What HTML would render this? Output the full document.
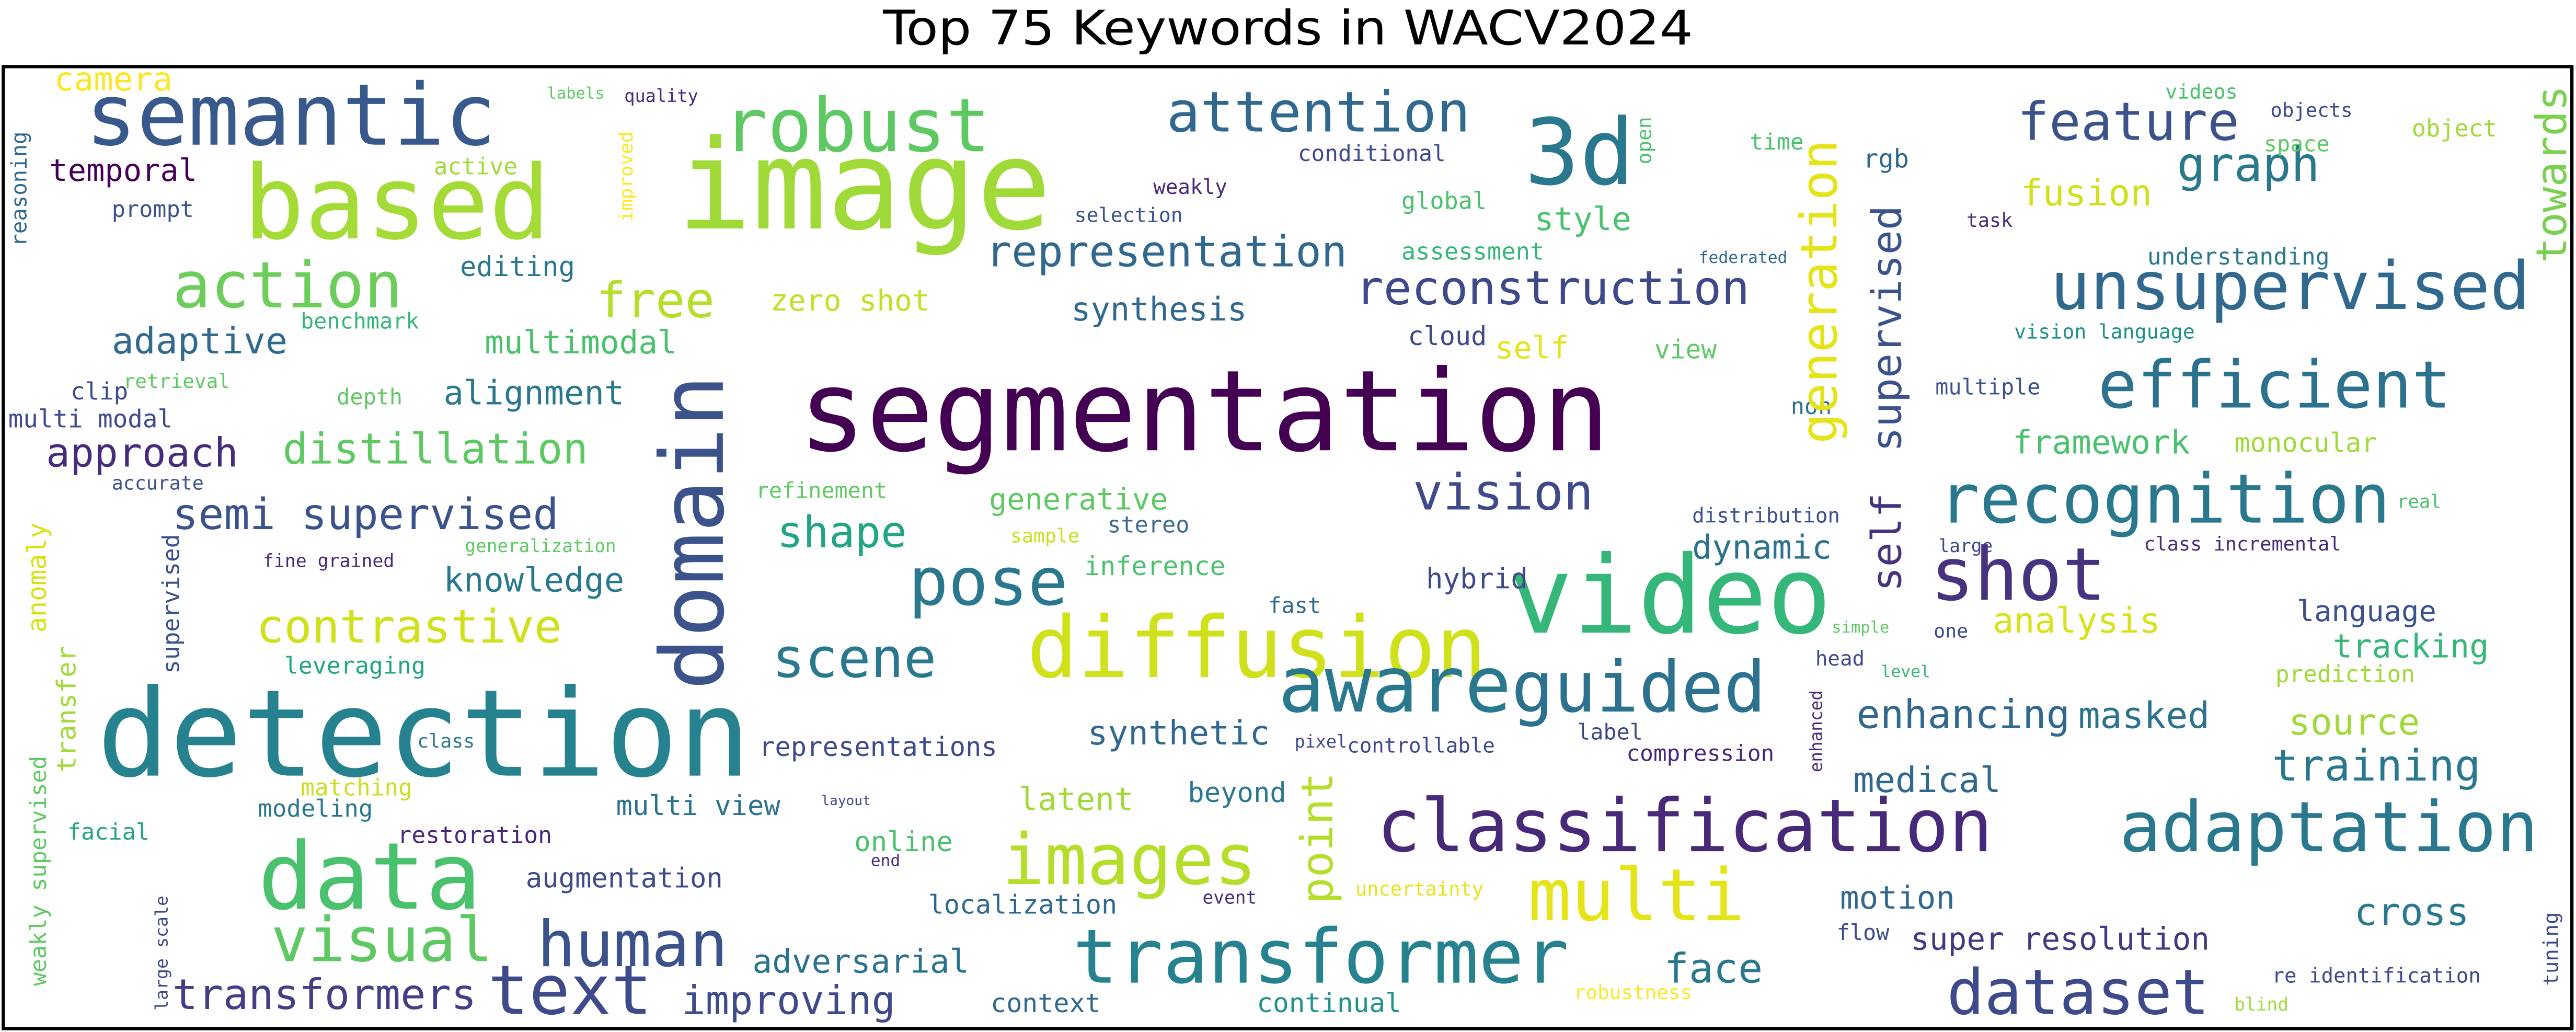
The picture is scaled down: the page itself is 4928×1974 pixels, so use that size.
<!DOCTYPE html>
<html><head><meta charset="utf-8">
<style>
html,body{margin:0;padding:0;background:#fff;}
svg{display:block;}
</style></head>
<body>
<svg id="cloud" xmlns="http://www.w3.org/2000/svg" width="4928" height="1974" viewBox="0 0 1568 628">
<rect x="0" y="0" width="1568" height="628" fill="#fff"/>
<text id="title" x="784" y="27" text-anchor="middle" font-family="DejaVu Sans, Liberation Sans, sans-serif" font-size="29" textLength="493" lengthAdjust="spacingAndGlyphs" fill="#000">Top 75 Keywords in WACV2024</text>
<rect x="2" y="40.5" width="1563.5" height="585.5" fill="none" stroke="#000" stroke-width="2"/>
<g id="words"></g>
</svg>
<script>
// horizontal words: word, left x, right x, baseline y, colour
const hWords = ["semantic","based","image","3d","robust","attention","feature","camera","labels","quality","active","temporal","prompt","representation","action","free","zero shot","editing","benchmark","reconstruction","style","synthesis","fusion","graph","unsupervised","efficient","adaptive","multimodal","self","view","cloud","clip","retrieval","depth","alignment","multi modal","segmentation","distillation","approach","framework","monocular","vision language","understanding","multiple","non","accurate","refinement","generative","vision","recognition","distribution","real","semi supervised","shape","sample","stereo","large","class incremental","generalization","fine grained","knowledge","pose","dynamic","inference","shot","analysis","language","contrastive","video","hybrid","fast","diffusion","scene","leveraging","tracking","prediction","simple","head","level","one","aware","guided","detection","enhancing","masked","source","synthetic","representations","controllable","pixel","label","class","matching","compression","training","medical","latent","beyond","layout","multi view","modeling","facial","restoration","data","images","classification","adaptation","online","end","multi","augmentation","motion","cross","uncertainty","event","localization","visual","human","transformer","face","adversarial","flow","super resolution","re identification","transformers","text","improving","context","continual","robustness","dataset","blind","videos","objects","space","object","time","rgb","conditional","weakly","global","selection","task","assessment","federated"];
const hLeft = [52,148,412,928,440,710,1228,33,333,380,264,30,68,600,105,363,469,280,183,825,934,652,1230,1325,1248,1277,68,295,910,1007,857,43,75,205,270,5,486,172,28,1225,1360,1226,1307,1178,1090,68,460,602,860,1180,1030,1459,105,473,615,674,1180,1305,283,160,270,553,1030,660,1175,1213,1398,156,918,868,772,625,470,173,1420,1385,1115,1105,1145,1177,778,920,59,1130,1265,1393,662,462,820,788,960,254,183,990,1383,1128,620,723,500,375,157,41,242,157,610,838,1290,520,530,930,320,1120,1433,825,732,565,165,327,653,1013,458,1118,1163,1383,105,297,415,603,765,958,1185,1360,1318,1382,1378,1468,1065,1134,790,702,853,654,1197,853,1034];
const hRight = [302,335,640,995,603,895,1363,105,368,425,315,120,118,820,245,435,566,350,255,1065,993,759,1310,1412,1540,1492,175,412,955,1045,905,78,140,245,380,105,980,358,145,1333,1447,1336,1418,1242,1115,124,540,711,970,1455,1120,1486,340,552,657,724,1213,1425,375,240,380,650,1115,746,1282,1315,1483,342,1115,930,804,905,570,259,1515,1470,1150,1135,1175,1198,920,1075,457,1260,1345,1473,773,607,910,820,1000,289,251,1080,1510,1218,690,783,530,475,227,91,336,293,765,1213,1545,580,548,1062,440,1190,1503,903,765,680,300,443,955,1073,590,1150,1345,1510,290,397,545,670,853,1030,1345,1393,1362,1432,1418,1520,1098,1162,880,747,905,720,1225,940,1088];
const hBase = [88,145,139,112,92,80,85,55,60,62,106,110,132,162,187,193,189,168,200,185,140,195,125,110,188,248,215,215,218,218,210,243,236,246,246,260,274,282,284,276,275,206,161,240,252,298,303,310,310,318,318,309,322,333,330,324,336,335,336,345,360,368,340,350,365,385,378,391,385,358,373,412,412,410,400,415,385,405,412,388,433,433,472,443,443,447,453,460,458,455,450,455,484,463,475,482,493,488,490,496,497,511,513,553,538,518,518,518,527,560,540,553,563,545,550,556,585,588,598,598,592,572,578,598,614,617,617,616,616,608,617,615,60,71,92,83,91,102,98,118,127,135,138,158,160];
const hColor = ["#38598c","#a5db36","#a0da39","#2a788e","#5ec962","#31688e","#3b528b","#fde725","#5ec962","#482878","#a0da39","#440154","#3b528b","#31688e","#6ccd5a","#b5de2b","#c2df23","#2a788e","#35b779","#3e4989","#4ac16d","#31688e","#d0e11c","#2a788e","#31688e","#2c728e","#306a8e","#4ac16d","#e5e419","#5ec962","#3e4a89","#3e4a89","#5ec962","#5ec962","#2a788e","#3e4a89","#440154","#5ec962","#472c7a","#4ac16d","#a0da39","#21918c","#2a788e","#3b528b","#2c728e","#3b528b","#5ec962","#5ec962","#3e4a89","#2a788e","#3b528b","#4ac16d","#3b528b","#21a585","#c8e020","#3e6a8e","#3e4a89","#482878","#5ec962","#482878","#2a788e","#2a788e","#2c728e","#4ac16d","#46327e","#d8e219","#3b528b","#d0e11c","#35b779","#3e4a89","#31688e","#d0e11c","#2a788e","#21a585","#35b779","#a0da39","#5ec962","#3e4a89","#35b779","#3e4a89","#2a788e","#2c728e","#26828e","#31688e","#2c728e","#a0da39","#31688e","#3e4a89","#3e4a89","#3e4a89","#3e4a89","#2a788e","#c8e020","#482878","#2a788e","#31688e","#a0da39","#2a788e","#3e4a89","#2c728e","#2a788e","#21a585","#482878","#4ac16d","#b5de2b","#482878","#2a788e","#4ac16d","#482878","#e5e419","#3e4a89","#31688e","#2a788e","#e5e419","#482878","#31688e","#5ec962","#3b528b","#26828e","#2a788e","#2c728e","#3e4a89","#453781","#3e4a89","#433e85","#3e4a89","#3e4a89","#31688e","#21918c","#fde725","#3e4a89","#a0da39","#4ac16d","#3e4a89","#5ec962","#a0da39","#4ac16d","#31688e","#3e4a89","#482878","#4ac16d","#3b528b","#482878","#35b779","#31688e"];

// vertical words (read bottom to top): word, baseline x, bottom y, top y, colour
const vWords = ["towards","generation","supervised","self","improved","reasoning","domain","anomaly","supervised","transfer","weakly supervised","point","enhanced","large scale","tuning","open"];
const vBaseX = [1562,1118,1157,1157,385,16,440,28,109,46,28,811,1109,102,1557,1005];
const vBottom = [160,270,275,360,135,150,420,385,410,470,600,550,470,615,600,100];
const vTop = [52,85,125,300,80,80,228,318,325,393,460,470,420,545,555,71];
const vColor = ["#7ad151","#e5e419","#3b528b","#46337e","#fde725","#31688e","#3b528b","#d8e219","#3b528b","#a0da39","#5ec962","#b5de2b","#482878","#3e4a89","#3e4a89","#4ac16d"];

const NS = "http://www.w3.org/2000/svg";
const g = document.getElementById("words");
const FONT = "'DejaVu Sans Mono', 'Liberation Mono', monospace";
for (let i = 0; i < hWords.length; i++) {
  const w = hWords[i], len = hRight[i] - hLeft[i];
  const fs = len / (w.length * 0.602);
  const t = document.createElementNS(NS, "text");
  t.setAttribute("x", hLeft[i]);
  t.setAttribute("y", hBase[i]);
  t.setAttribute("font-family", FONT);
  t.setAttribute("font-size", fs.toFixed(2));
  t.setAttribute("textLength", len);
  t.setAttribute("lengthAdjust", "spacingAndGlyphs");
  t.setAttribute("fill", hColor[i]);
  
  
  t.textContent = w;
  g.appendChild(t);
}
for (let i = 0; i < vWords.length; i++) {
  const w = vWords[i], len = vBottom[i] - vTop[i];
  const fs = len / (w.length * 0.602);
  const t = document.createElementNS(NS, "text");
  t.setAttribute("x", 0);
  t.setAttribute("y", 0);
  t.setAttribute("transform", "translate(" + vBaseX[i] + "," + vBottom[i] + ") rotate(-90)");
  t.setAttribute("font-family", FONT);
  t.setAttribute("font-size", fs.toFixed(2));
  t.setAttribute("textLength", len);
  t.setAttribute("lengthAdjust", "spacingAndGlyphs");
  t.setAttribute("fill", vColor[i]);
  
  
  t.textContent = w;
  g.appendChild(t);
}
</script>
</body></html>
